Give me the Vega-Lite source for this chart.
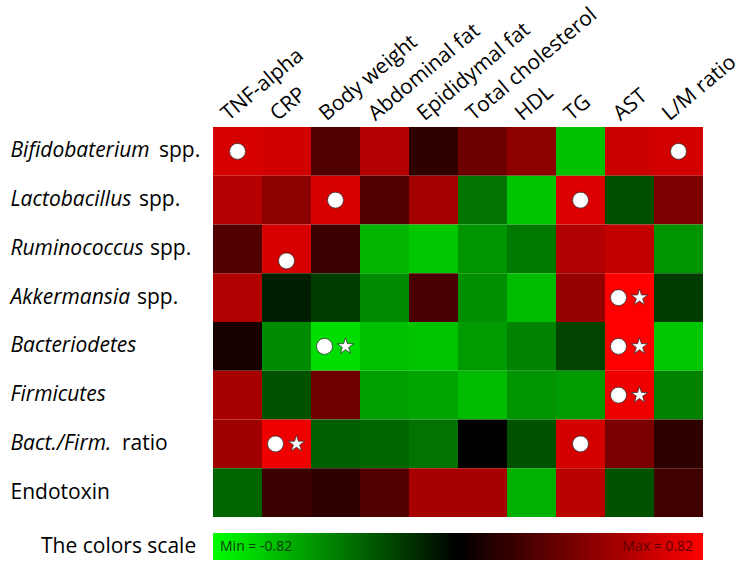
{
  "$schema": "https://vega.github.io/schema/vega-lite/v6.json",
  "width": 490,
  "height": 390,
  "autosize": {"type": "none"},
  "padding": {"left": 213, "top": 127, "right": 50, "bottom": 56},
  "background": "white",
  "config": {"view": {"stroke": null}, "font": "Open Sans"},
  "datasets": {
    "cells": [
      {"row": "Bifidobaterium", "col": "TNF-alpha", "r": 0.69, "sig": "o"},
      {"row": "Bifidobaterium", "col": "CRP", "r": 0.67, "sig": ""},
      {"row": "Bifidobaterium", "col": "Body weight", "r": 0.26, "sig": ""},
      {"row": "Bifidobaterium", "col": "Abdominal fat", "r": 0.58, "sig": ""},
      {"row": "Bifidobaterium", "col": "Epididymal fat", "r": 0.15, "sig": ""},
      {"row": "Bifidobaterium", "col": "Total cholesterol", "r": 0.35, "sig": ""},
      {"row": "Bifidobaterium", "col": "HDL", "r": 0.45, "sig": ""},
      {"row": "Bifidobaterium", "col": "TG", "r": -0.62, "sig": ""},
      {"row": "Bifidobaterium", "col": "AST", "r": 0.66, "sig": ""},
      {"row": "Bifidobaterium", "col": "L/M ratio", "r": 0.68, "sig": "o"},
      {"row": "Lactobacillus", "col": "TNF-alpha", "r": 0.58, "sig": ""},
      {"row": "Lactobacillus", "col": "CRP", "r": 0.45, "sig": ""},
      {"row": "Lactobacillus", "col": "Body weight", "r": 0.69, "sig": "o"},
      {"row": "Lactobacillus", "col": "Abdominal fat", "r": 0.26, "sig": ""},
      {"row": "Lactobacillus", "col": "Epididymal fat", "r": 0.53, "sig": ""},
      {"row": "Lactobacillus", "col": "Total cholesterol", "r": -0.37, "sig": ""},
      {"row": "Lactobacillus", "col": "HDL", "r": -0.63, "sig": ""},
      {"row": "Lactobacillus", "col": "TG", "r": 0.71, "sig": "o"},
      {"row": "Lactobacillus", "col": "AST", "r": -0.25, "sig": ""},
      {"row": "Lactobacillus", "col": "L/M ratio", "r": 0.40, "sig": ""},
      {"row": "Ruminococcus", "col": "TNF-alpha", "r": 0.26, "sig": ""},
      {"row": "Ruminococcus", "col": "CRP", "r": 0.69, "sig": "o"},
      {"row": "Ruminococcus", "col": "Body weight", "r": 0.19, "sig": ""},
      {"row": "Ruminococcus", "col": "Abdominal fat", "r": -0.58, "sig": ""},
      {"row": "Ruminococcus", "col": "Epididymal fat", "r": -0.64, "sig": ""},
      {"row": "Ruminococcus", "col": "Total cholesterol", "r": -0.48, "sig": ""},
      {"row": "Ruminococcus", "col": "HDL", "r": -0.39, "sig": ""},
      {"row": "Ruminococcus", "col": "TG", "r": 0.57, "sig": ""},
      {"row": "Ruminococcus", "col": "AST", "r": 0.62, "sig": ""},
      {"row": "Ruminococcus", "col": "L/M ratio", "r": -0.48, "sig": ""},
      {"row": "Akkermansia", "col": "TNF-alpha", "r": 0.57, "sig": ""},
      {"row": "Akkermansia", "col": "CRP", "r": -0.10, "sig": ""},
      {"row": "Akkermansia", "col": "Body weight", "r": -0.19, "sig": ""},
      {"row": "Akkermansia", "col": "Abdominal fat", "r": -0.45, "sig": ""},
      {"row": "Akkermansia", "col": "Epididymal fat", "r": 0.23, "sig": ""},
      {"row": "Akkermansia", "col": "Total cholesterol", "r": -0.46, "sig": ""},
      {"row": "Akkermansia", "col": "HDL", "r": -0.60, "sig": ""},
      {"row": "Akkermansia", "col": "TG", "r": 0.48, "sig": ""},
      {"row": "Akkermansia", "col": "AST", "r": 0.82, "sig": "os"},
      {"row": "Akkermansia", "col": "L/M ratio", "r": -0.19, "sig": ""},
      {"row": "Bacteriodetes", "col": "TNF-alpha", "r": 0.08, "sig": ""},
      {"row": "Bacteriodetes", "col": "CRP", "r": -0.45, "sig": ""},
      {"row": "Bacteriodetes", "col": "Body weight", "r": -0.71, "sig": "os"},
      {"row": "Bacteriodetes", "col": "Abdominal fat", "r": -0.62, "sig": ""},
      {"row": "Bacteriodetes", "col": "Epididymal fat", "r": -0.63, "sig": ""},
      {"row": "Bacteriodetes", "col": "Total cholesterol", "r": -0.50, "sig": ""},
      {"row": "Bacteriodetes", "col": "HDL", "r": -0.42, "sig": ""},
      {"row": "Bacteriodetes", "col": "TG", "r": -0.22, "sig": ""},
      {"row": "Bacteriodetes", "col": "AST", "r": 0.82, "sig": "os"},
      {"row": "Bacteriodetes", "col": "L/M ratio", "r": -0.64, "sig": ""},
      {"row": "Firmicutes", "col": "TNF-alpha", "r": 0.54, "sig": ""},
      {"row": "Firmicutes", "col": "CRP", "r": -0.26, "sig": ""},
      {"row": "Firmicutes", "col": "Body weight", "r": 0.36, "sig": ""},
      {"row": "Firmicutes", "col": "Abdominal fat", "r": -0.51, "sig": ""},
      {"row": "Firmicutes", "col": "Epididymal fat", "r": -0.53, "sig": ""},
      {"row": "Firmicutes", "col": "Total cholesterol", "r": -0.60, "sig": ""},
      {"row": "Firmicutes", "col": "HDL", "r": -0.48, "sig": ""},
      {"row": "Firmicutes", "col": "TG", "r": -0.50, "sig": ""},
      {"row": "Firmicutes", "col": "AST", "r": 0.77, "sig": "os"},
      {"row": "Firmicutes", "col": "L/M ratio", "r": -0.42, "sig": ""},
      {"row": "Bact./Firm.", "col": "TNF-alpha", "r": 0.51, "sig": ""},
      {"row": "Bact./Firm.", "col": "CRP", "r": 0.77, "sig": "os"},
      {"row": "Bact./Firm.", "col": "Body weight", "r": -0.31, "sig": ""},
      {"row": "Bact./Firm.", "col": "Abdominal fat", "r": -0.33, "sig": ""},
      {"row": "Bact./Firm.", "col": "Epididymal fat", "r": -0.37, "sig": ""},
      {"row": "Bact./Firm.", "col": "Total cholesterol", "r": 0.0, "sig": ""},
      {"row": "Bact./Firm.", "col": "HDL", "r": -0.26, "sig": ""},
      {"row": "Bact./Firm.", "col": "TG", "r": 0.68, "sig": "o"},
      {"row": "Bact./Firm.", "col": "AST", "r": 0.39, "sig": ""},
      {"row": "Bact./Firm.", "col": "L/M ratio", "r": 0.15, "sig": ""},
      {"row": "Endotoxin", "col": "TNF-alpha", "r": -0.32, "sig": ""},
      {"row": "Endotoxin", "col": "CRP", "r": 0.19, "sig": ""},
      {"row": "Endotoxin", "col": "Body weight", "r": 0.15, "sig": ""},
      {"row": "Endotoxin", "col": "Abdominal fat", "r": 0.26, "sig": ""},
      {"row": "Endotoxin", "col": "Epididymal fat", "r": 0.54, "sig": ""},
      {"row": "Endotoxin", "col": "Total cholesterol", "r": 0.54, "sig": ""},
      {"row": "Endotoxin", "col": "HDL", "r": -0.57, "sig": ""},
      {"row": "Endotoxin", "col": "TG", "r": 0.60, "sig": ""},
      {"row": "Endotoxin", "col": "AST", "r": -0.26, "sig": ""},
      {"row": "Endotoxin", "col": "L/M ratio", "r": 0.21, "sig": ""}
    ],
    "labels": [
      {"row": "Bifidobaterium", "suffix": "spp."},
      {"row": "Lactobacillus", "suffix": "spp."},
      {"row": "Ruminococcus", "suffix": "spp."},
      {"row": "Akkermansia", "suffix": "spp."},
      {"row": "Bact./Firm.", "suffix": "ratio"}
    ]
  },
  "layer": [
    {
      "data": {"name": "cells"},
      "mark": {"type": "rect"},
      "encoding": {
        "x": {
          "field": "col", "type": "nominal",
          "sort": ["TNF-alpha", "CRP", "Body weight", "Abdominal fat", "Epididymal fat", "Total cholesterol", "HDL", "TG", "AST", "L/M ratio"],
          "scale": {"paddingInner": 0, "paddingOuter": 0},
          "axis": {"orient": "top", "title": null, "labelAngle": -40, "labelAlign": "left", "labelBaseline": "alphabetic", "labelFontSize": 21, "labelPadding": 6, "labelOffset": -9, "ticks": false, "domain": false, "labelColor": "#000000", "labelFont": "Open Sans"}
        },
        "y": {
          "field": "row", "type": "nominal",
          "sort": ["Bifidobaterium", "Lactobacillus", "Ruminococcus", "Akkermansia", "Bacteriodetes", "Firmicutes", "Bact./Firm.", "Endotoxin"],
          "scale": {"paddingInner": 0, "paddingOuter": 0},
          "axis": {"title": null, "ticks": false, "domain": false, "labelAlign": "left", "labelPadding": 203, "labelFontSize": 21, "labelColor": "#000000", "labelFont": "Open Sans",
            "labelFontStyle": {"condition": {"test": "datum.value === 'Endotoxin'", "value": "normal"}, "value": "italic"}}
        },
        "color": {
          "field": "r", "type": "quantitative",
          "scale": {"domain": [-0.82, 0, 0.82], "range": ["#00ff00", "#000000", "#ff0000"], "interpolate": "rgb"},
          "legend": {
            "orient": "none", "direction": "horizontal", "legendX": -172, "legendY": 406,
            "title": "The colors scale", "titleOrient": "left", "titleAngle": 0, "titleFontSize": 21, "titleFontWeight": "normal", "titleColor": "#000000", "titlePadding": 16, "titleBaseline": "middle", "titleFont": "Open Sans",
            "gradientLength": 490, "gradientThickness": 27, "gradientStrokeWidth": 0,
            "values": [-0.82, 0.82],
            "labelExpr": "datum.value < 0 ? 'Min = -0.82' : 'Max = 0.82'",
            "labelOffset": -20, "labelBaseline": "middle", "labelFontSize": 14, "labelFont": "Open Sans",
            "encode": {"labels": {"update": {"fill": {"signal": "datum.value < 0 ? '#0c3a0c' : '#5a0000'"}, "dx": {"signal": "datum.value < 0 ? 7 : -10"}}}}
          }
        }
      }
    },
    {
      "data": {"name": "cells"},
      "transform": [{"filter": "datum.sig === 'o'"}],
      "mark": {"type": "point", "shape": "circle", "filled": true, "fill": "#ffffff", "stroke": "#333333", "strokeWidth": 0.8, "size": 256, "opacity": 1,
        "yOffset": {"expr": "datum.row === 'Ruminococcus' ? 12 : 0"}},
      "encoding": {
        "x": {"field": "col", "type": "nominal", "sort": ["TNF-alpha", "CRP", "Body weight", "Abdominal fat", "Epididymal fat", "Total cholesterol", "HDL", "TG", "AST", "L/M ratio"]},
        "y": {"field": "row", "type": "nominal", "sort": ["Bifidobaterium", "Lactobacillus", "Ruminococcus", "Akkermansia", "Bacteriodetes", "Firmicutes", "Bact./Firm.", "Endotoxin"]}
      }
    },
    {
      "data": {"name": "cells"},
      "transform": [{"filter": "datum.sig === 'os'"}],
      "mark": {"type": "point", "shape": "circle", "filled": true, "fill": "#ffffff", "stroke": "#333333", "strokeWidth": 0.8, "size": 256, "opacity": 1, "xOffset": -11},
      "encoding": {
        "x": {"field": "col", "type": "nominal", "sort": ["TNF-alpha", "CRP", "Body weight", "Abdominal fat", "Epididymal fat", "Total cholesterol", "HDL", "TG", "AST", "L/M ratio"]},
        "y": {"field": "row", "type": "nominal", "sort": ["Bifidobaterium", "Lactobacillus", "Ruminococcus", "Akkermansia", "Bacteriodetes", "Firmicutes", "Bact./Firm.", "Endotoxin"]}
      }
    },
    {
      "data": {"name": "cells"},
      "transform": [{"filter": "datum.sig === 'os'"}],
      "mark": {"type": "point", "shape": "M0,-1L0.2245,-0.309L0.951,-0.309L0.363,0.118L0.588,0.809L0,0.382L-0.588,0.809L-0.363,0.118L-0.951,-0.309L-0.2245,-0.309Z", "filled": true, "fill": "#ffffff", "stroke": "#333333", "strokeWidth": 0.8, "size": 300, "opacity": 1, "xOffset": 10},
      "encoding": {
        "x": {"field": "col", "type": "nominal", "sort": ["TNF-alpha", "CRP", "Body weight", "Abdominal fat", "Epididymal fat", "Total cholesterol", "HDL", "TG", "AST", "L/M ratio"]},
        "y": {"field": "row", "type": "nominal", "sort": ["Bifidobaterium", "Lactobacillus", "Ruminococcus", "Akkermansia", "Bacteriodetes", "Firmicutes", "Bact./Firm.", "Endotoxin"]}
      }
    },
    {
      "data": {"name": "labels"},
      "mark": {"type": "text", "align": "left", "baseline": "middle", "fontSize": 21, "font": "Open Sans", "color": "#000000", "x": 0,
        "dx": {"expr": "datum.row === 'Bifidobaterium' ? -54 : datum.row === 'Lactobacillus' ? -74 : datum.row === 'Ruminococcus' ? -63 : datum.row === 'Akkermansia' ? -76 : -91"}},
      "encoding": {
        "y": {"field": "row", "type": "nominal", "sort": ["Bifidobaterium", "Lactobacillus", "Ruminococcus", "Akkermansia", "Bacteriodetes", "Firmicutes", "Bact./Firm.", "Endotoxin"]},
        "text": {"field": "suffix"}
      }
    }
  ]
}
